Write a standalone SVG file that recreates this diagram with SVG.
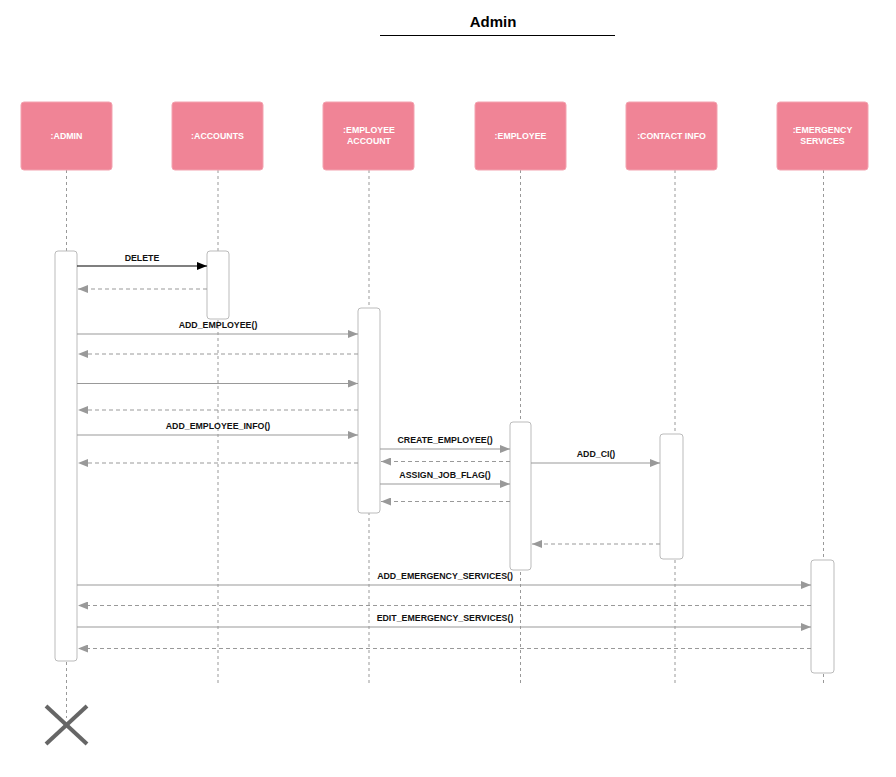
<svg xmlns="http://www.w3.org/2000/svg" width="896" height="777" viewBox="0 0 896 777">
<defs>
<style>
.node{fill:#f08496;stroke:#f3a3b0;stroke-width:1}
.nt{font-family:"Liberation Sans",Arial,sans-serif;font-size:8.8px;font-weight:bold;fill:#ffffff;text-anchor:middle}
.life{stroke:#999;stroke-width:1;stroke-dasharray:3,3;fill:none}
.act{fill:#ffffff;stroke:#bbbbbb;stroke-width:1}
.msg{stroke:#999;stroke-width:1.2;fill:none}
.ret{stroke:#999;stroke-width:1.2;stroke-dasharray:4,3;fill:none}
.lbl{font-family:"Liberation Sans",Arial,sans-serif;font-size:8.8px;font-weight:bold;fill:#111;text-anchor:middle}
</style>
<marker id="ag" viewBox="0 0 10 8" refX="10" refY="4" markerWidth="10" markerHeight="8" markerUnits="userSpaceOnUse" orient="auto">
<path d="M0,0 L10,4 L0,8 Z" fill="#999"/>
</marker>
<marker id="ab" viewBox="0 0 10 8" refX="10" refY="4" markerWidth="10" markerHeight="8" markerUnits="userSpaceOnUse" orient="auto">
<path d="M0,0 L10,4 L0,8 Z" fill="#000"/>
</marker>
</defs>
<rect width="896" height="777" fill="#ffffff"/>
<g id="title">
<text x="493" y="27" font-family="Liberation Sans,Arial,sans-serif" font-size="15" font-weight="bold" text-anchor="middle" fill="#000">Admin</text>
<line x1="380" y1="35.5" x2="615" y2="35.5" stroke="#000" stroke-width="1"/>
</g>
<g id="lifelines">
<line class="life" x1="66.5" y1="170" x2="66.5" y2="718"/>
<line class="life" x1="218" y1="170" x2="218" y2="685"/>
<line class="life" x1="369" y1="170" x2="369" y2="685"/>
<line class="life" x1="520.5" y1="170" x2="520.5" y2="685"/>
<line class="life" x1="675" y1="170" x2="675" y2="685"/>
<line class="life" x1="823.5" y1="170" x2="823.5" y2="685"/>
</g>
<g id="node-admin"><rect class="node" x="21" y="102" width="91" height="68" rx="3"/><text class="nt" x="66.5" y="139">:ADMIN</text></g>
<g id="node-accounts"><rect class="node" x="172" y="102" width="91" height="68" rx="3"/><text class="nt" x="217.5" y="139">:ACCOUNTS</text></g>
<g id="node-employee-account"><rect class="node" x="323" y="102" width="91" height="68" rx="3"/><text class="nt" x="369" y="133">:EMPLOYEE</text><text class="nt" x="369" y="143.5">ACCOUNT</text></g>
<g id="node-employee"><rect class="node" x="475" y="102" width="91" height="68" rx="3"/><text class="nt" x="520.5" y="139">:EMPLOYEE</text></g>
<g id="node-contact-info"><rect class="node" x="626" y="102" width="91" height="68" rx="3"/><text class="nt" x="671.5" y="139">:CONTACT INFO</text></g>
<g id="node-emergency-services"><rect class="node" x="777" y="102" width="91" height="68" rx="3"/><text class="nt" x="822.5" y="133">:EMERGENCY</text><text class="nt" x="822.5" y="143.5">SERVICES</text></g>
<g id="activations">
<rect class="act" x="55" y="251" width="22" height="410" rx="3"/>
<rect class="act" x="207" y="251" width="22" height="68" rx="3"/>
<rect class="act" x="358" y="308" width="22" height="205" rx="3"/>
<rect class="act" x="510" y="422" width="21" height="148" rx="3"/>
<rect class="act" x="660" y="434" width="23" height="125" rx="3"/>
<rect class="act" x="811" y="560" width="23" height="113" rx="3"/>
</g>
<g id="connectors">
<line x1="77" y1="266" x2="207" y2="266" stroke="#000" stroke-width="1.2" marker-end="url(#ab)"/>
<line class="ret" x1="207" y1="289" x2="78" y2="289" marker-end="url(#ag)"/>
<line class="msg" x1="77" y1="334" x2="358" y2="334" marker-end="url(#ag)"/>
<line class="ret" x1="358" y1="354" x2="78" y2="354" marker-end="url(#ag)"/>
<line class="msg" x1="77" y1="383.5" x2="358" y2="383.5" marker-end="url(#ag)"/>
<line class="ret" x1="358" y1="410" x2="78" y2="410" marker-end="url(#ag)"/>
<line class="msg" x1="77" y1="435" x2="358" y2="435" marker-end="url(#ag)"/>
<line class="msg" x1="380" y1="449" x2="510" y2="449" marker-end="url(#ag)"/>
<line class="ret" x1="510" y1="461.5" x2="381" y2="461.5" marker-end="url(#ag)"/>
<line class="msg" x1="531" y1="463" x2="660" y2="463" marker-end="url(#ag)"/>
<line class="ret" x1="358" y1="463" x2="78" y2="463" marker-end="url(#ag)"/>
<line class="msg" x1="380" y1="484" x2="510" y2="484" marker-end="url(#ag)"/>
<line class="ret" x1="510" y1="501.5" x2="381" y2="501.5" marker-end="url(#ag)"/>
<line class="ret" x1="660" y1="544" x2="532" y2="544" marker-end="url(#ag)"/>
<line class="msg" x1="77" y1="585" x2="811" y2="585" marker-end="url(#ag)"/>
<line class="ret" x1="811" y1="605.5" x2="78" y2="605.5" marker-end="url(#ag)"/>
<line class="msg" x1="77" y1="627" x2="811" y2="627" marker-end="url(#ag)"/>
<line class="ret" x1="811" y1="648.5" x2="78" y2="648.5" marker-end="url(#ag)"/>
</g>
<g id="labels">
<text class="lbl" x="142" y="261">DELETE</text>
<text class="lbl" x="218" y="328">ADD_EMPLOYEE()</text>
<text class="lbl" x="218" y="429">ADD_EMPLOYEE_INFO()</text>
<text class="lbl" x="445" y="443">CREATE_EMPLOYEE()</text>
<text class="lbl" x="596" y="457">ADD_CI()</text>
<text class="lbl" x="445" y="478">ASSIGN_JOB_FLAG()</text>
<text class="lbl" x="445" y="579">ADD_EMERGENCY_SERVICES()</text>
<text class="lbl" x="445" y="621">EDIT_EMERGENCY_SERVICES()</text>
</g>
<g id="destroy">
<line x1="46" y1="706" x2="87" y2="744" stroke="#666" stroke-width="4"/>
<line x1="87" y1="706" x2="46" y2="744" stroke="#666" stroke-width="4"/>
</g>
</svg>
